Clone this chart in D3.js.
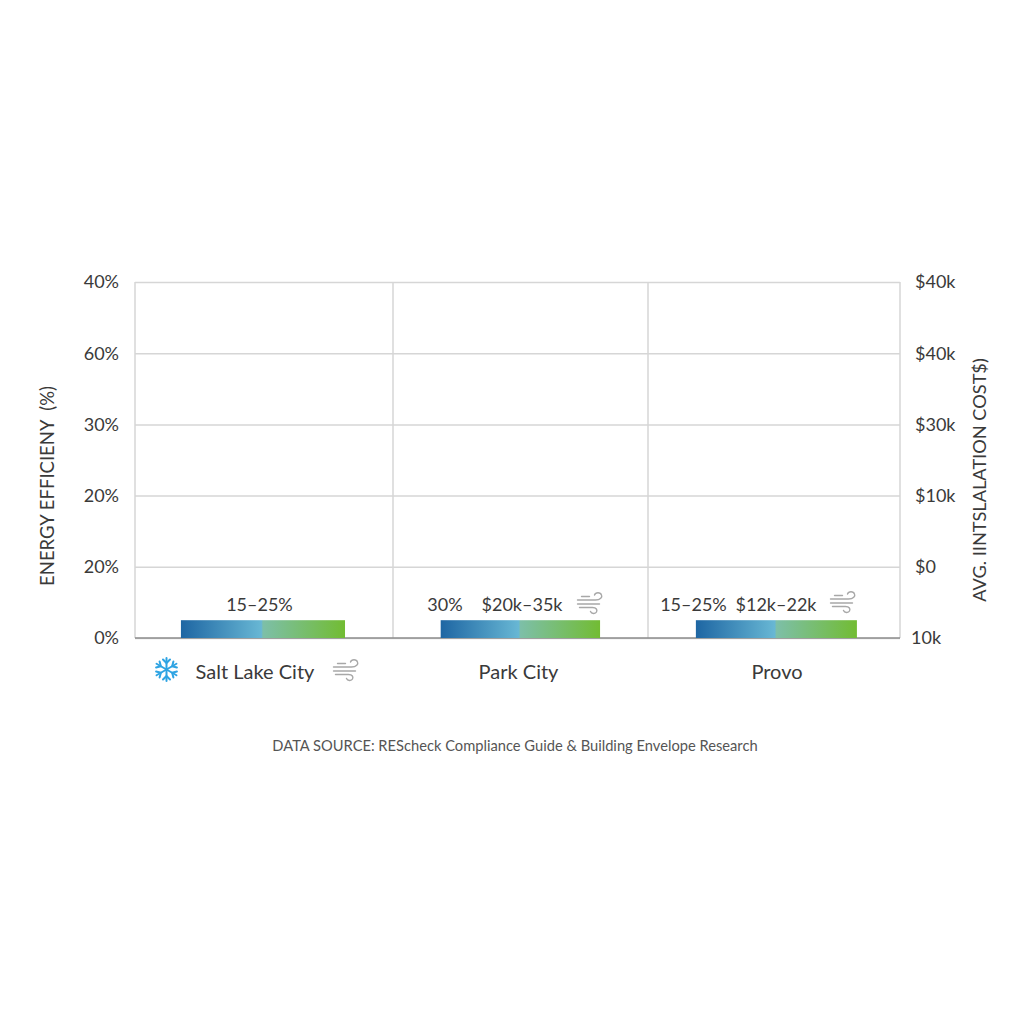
<!DOCTYPE html>
<html><head><meta charset="utf-8">
<script src="https://cdn.jsdelivr.net/npm/d3@7/dist/d3.min.js"></script>
<style>html,body{margin:0;padding:0;background:#fff}svg{display:block}text{font-family:Lato,sans-serif}</style>
</head><body><svg id="c" width="1024" height="1024"></svg>
<script>
const cities = ["Salt Lake City","Park City","Provo"];
const leftTickLabels = ["0%","20%","20%","30%","60%","40%"];
const rightTickLabels = ["10k","$0","$10k","$30k","$40k","$40k"];
const barStart = [0.178,1.187,2.19];
const barEnd = [0.814,1.812,2.829];
const barHeight = [0.25,0.25,0.25];
const efficiencyLabels = ["15–25%","30%","15–25%"];
const costLabels = ["","$20k–35k","$12k–22k"];
const leftTitle = "ENERGY EFFICIENY  (%)";
const rightTitle = "AVG. IINTSLALATION COST$)";
const sourceNote = "DATA SOURCE: REScheck Compliance Guide & Building Envelope Research";

const svg = d3.select("#c");
const x = d3.scaleLinear().domain([0,1,2,3]).range([135,393,648,900]);
const y = d3.scaleLinear().domain([0,5]).range([638,282]);
const ink="#3a3a3a", grid="#d6d6d6";

// gridlines
svg.append("g").call(d3.axisLeft(y).ticks(5).tickSize(-(900-135)).tickFormat(""))
  .attr("transform","translate(135,0)")
  .call(g=>g.select(".domain").remove())
  .call(g=>g.selectAll("line").attr("stroke",grid).attr("stroke-width",1.5));
svg.append("g").selectAll("line").data([0,1,2,3]).join("line")
  .attr("x1",d=>x(d)).attr("x2",d=>x(d)).attr("y1",y(5)).attr("y2",y(0))
  .attr("stroke",grid).attr("stroke-width",1.5);
svg.append("line").attr("x1",x(0)).attr("x2",x(3)).attr("y1",y(0)).attr("y2",y(0))
  .attr("stroke","#8c8c8c").attr("stroke-width",1.5);

// tick labels
svg.append("g").selectAll("text").data(leftTickLabels).join("text")
  .attr("x",119).attr("y",(d,i)=>y(i)).attr("dy","0.36em").attr("text-anchor","end")
  .attr("font-size",18).attr("fill",ink).text(d=>d);
svg.append("g").selectAll("text").data(rightTickLabels).join("text")
  .attr("x",(d,i)=>i===0?911:915).attr("y",(d,i)=>y(i)).attr("dy","0.36em")
  .attr("font-size",18).attr("fill",ink).text(d=>d);

// axis titles
svg.append("text").attr("transform","translate(54,486) rotate(-90)").attr("text-anchor","middle")
  .attr("font-size",18.5).attr("fill",ink).style("white-space","pre").text(leftTitle);
svg.append("text").attr("transform","translate(986,480) rotate(-90)").attr("text-anchor","middle")
  .attr("font-size",18.2).attr("fill",ink).text(rightTitle);

// gradient bars
const defs = svg.append("defs");
cities.forEach((c,i)=>{
  const g = defs.append("linearGradient").attr("id","bar"+i);
  [[0,"#1e66a3"],[0.49,"#68b7d4"],[0.5,"#7dbfa8"],[1,"#72bc33"]].forEach(s=>
    g.append("stop").attr("offset",s[0]).attr("stop-color",s[1]));
});
svg.append("g").selectAll("rect").data(cities).join("rect")
  .attr("x",(d,i)=>x(barStart[i]))
  .attr("width",(d,i)=>x(barEnd[i])-x(barStart[i]))
  .attr("y",(d,i)=>y(barHeight[i]))
  .attr("height",(d,i)=>y(0)-y(barHeight[i]))
  .attr("fill",(d,i)=>`url(#bar${i})`);

// category labels
const catX=[255,518.5,777];
svg.append("g").selectAll("text").data(cities).join("text")
  .attr("x",(d,i)=>catX[i]).attr("y",679).attr("text-anchor","middle")
  .attr("font-size",20).attr("fill",ink).text(d=>d);

// value labels
const effX=[259.5,445,693.5];
svg.append("g").selectAll("text").data(efficiencyLabels).join("text")
  .attr("x",(d,i)=>effX[i]).attr("y",611).attr("text-anchor","middle")
  .attr("font-size",18).attr("fill",ink).text(d=>d);
const costX=[0,522,776];
svg.append("g").selectAll("text").data(costLabels).join("text")
  .attr("x",(d,i)=>costX[i]).attr("y",611).attr("text-anchor","middle")
  .attr("font-size",18).attr("fill",ink).text(d=>d);

// wind icons
function wind(cx,cy){
  const g=svg.append("g").attr("transform",`translate(${cx},${cy})`)
    .attr("fill","none").attr("stroke","#a8a8a8").attr("stroke-width",1.4).attr("stroke-linecap","round");
  g.append("path").attr("d","M-12,-3 H6 C11,-3 13,-6 12,-8 C11,-11 6,-11 5,-8");
  g.append("path").attr("d","M-8,-6.5 H0");
  g.append("path").attr("d","M-12,1 H10");
  g.append("path").attr("d","M-10,4.5 H3 C7,4.5 8,7 7,9 C6,11 2,11 1,8.5");
}
wind(345.5,670); wind(589.5,603); wind(842.5,602);

// snowflake
const sf=svg.append("g").attr("transform","translate(166.5,669.5)")
  .attr("stroke","#2fa4e3").attr("stroke-width",2).attr("stroke-linecap","round").attr("fill","none");
d3.range(6).forEach(k=>{
  const a=sf.append("g").attr("transform",`rotate(${k*60})`);
  a.append("path").attr("d","M0,0 V-11.5");
  a.append("path").attr("d","M-3.5,-10 L0,-6.5 L3.5,-10");
});

// source
svg.append("text").attr("x",515).attr("y",751).attr("text-anchor","middle")
  .attr("font-size",14.7).attr("fill","#555").text(sourceNote);
</script></body></html>
